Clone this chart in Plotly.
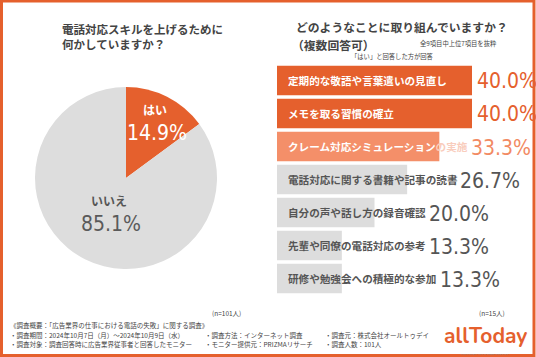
import math
import plotly.graph_objects as go

# ---------------- data ----------------
pie_labels = ["はい", "いいえ"]
pie_values = [14.9, 85.1]

bar_labels = [
    "定期的な敬語や言葉遣いの見直し",
    "メモを取る習慣の確立",
    "クレーム対応シミュレーションの実施",
    "電話対応に関する書籍や記事の読書",
    "自分の声や話し方の録音確認",
    "先輩や同僚の電話対応の参考",
    "研修や勉強会への積極的な参加",
]
bar_values = [40.0, 40.0, 33.3, 26.7, 20.0, 13.3, 13.3]

left_title = "電話対応スキルを上げるために<br>何かしていますか？"
right_title = "どのようなことに取り組んでいますか？"
right_sub = "（複数回答可）"
right_note1 = "全9項目中上位7項目を抜粋"
right_note2 = "「はい」と回答した方が回答"
n_left = "(n=101人)"
n_right = "(n=15人)"
foot_title = "《調査概要：「広告業界の仕事における電話の失敗」に関する調査》"
foot_col1 = ["・調査期間：2024年10月7日（月）～2024年10月9日（水）",
             "・調査対象：調査回答時に広告業界従事者と回答したモニター"]
foot_col2 = ["・調査方法：インターネット調査", "・モニター提供元：PRIZMAリサーチ"]
foot_col3 = ["・調査元：株式会社オールトゥデイ", "・調査人数：101人"]

# ---------------- style ----------------
W, H = 536, 357
ORANGE = "#E5602D"
LIGHT = "#F48F69"
GRAY = "#DDDDDD"
DARK = "#555555"
JP = "Noto Sans CJK JP"
NUM = "DejaVu Sans Condensed, Roboto, sans-serif"

def px(x):
    return x / W

def py(y):
    return 1 - y / H

bar_colors = [ORANGE, ORANGE, LIGHT] + [GRAY] * 4
val_colors = [ORANGE, ORANGE, "#F28A63"] + [DARK] * 4
lab_colors = ["white", "white", "white"] + [DARK] * 4

fig = go.Figure()

# pie
pie_l, pie_r, pie_t, pie_b = 35, 217, 87, 269
fig.add_trace(go.Pie(
    labels=pie_labels, values=pie_values, sort=False, direction="clockwise",
    rotation=0, marker=dict(colors=[ORANGE, GRAY], line=dict(width=0)),
    textinfo="none", hoverinfo="label+percent", showlegend=False,
    domain=dict(x=[px(pie_l), px(pie_r)], y=[py(pie_b), py(pie_t)]),
))

# bars
x0_px = 277
px_per_pct = 4.875
xmax = 50
x1_px = x0_px + xmax * px_per_pct
top_px, pitch = 64, 33
bot_px = top_px + pitch * len(bar_values)
fig.add_trace(go.Bar(
    x=bar_values, y=list(range(len(bar_values))), orientation="h",
    marker=dict(color=bar_colors, line=dict(width=0)), width=0.9,
    xaxis="x2", yaxis="y2", showlegend=False, hoverinfo="x",
))

fig.update_layout(
    width=W, height=H, margin=dict(l=0, r=0, t=0, b=0),
    paper_bgcolor="white", plot_bgcolor="white",
    xaxis2=dict(domain=[px(x0_px), px(x1_px)], range=[0, xmax], visible=False,
                anchor="y2", fixedrange=True),
    yaxis2=dict(domain=[py(bot_px), py(top_px)], range=[len(bar_values) - 0.5, -0.5],
                visible=False, anchor="x2", fixedrange=True),
)

ann = []

def A(x, y, text, size, color=DARK, font=JP, xanchor="left", yanchor="middle", **kw):
    ann.append(dict(x=px(x), y=py(y), xref="paper", yref="paper", text=text,
                    showarrow=False, xanchor=xanchor, yanchor=yanchor,
                    font=dict(family=font, size=size, color=color), **kw))

# titles
A(60, 37, "<b>" + left_title + "</b>", 11.5, color="#444444")
ann[-1]["align"] = "left"
A(294, 27, "<b>" + right_title + "</b>", 11.8, color="#444444")
A(290, 44, "<b>" + right_sub + "</b>", 11.8, color="#444444")
A(418, 43, right_note1, 6.3, color="#444444")
A(392, 57, right_note2, 6.3, color="#444444", xanchor="center")

# pie labels (computed from slice geometry)
cx, cy = (pie_l + pie_r) / 2, (pie_t + pie_b) / 2
r = (pie_r - pie_l) / 2
radial = [0.7, 0.42]
pie_name_colors = ["white", DARK]
pie_val_colors = ["white", "#5a5a5a"]
start = 0.0
tot = sum(pie_values)
for lab, v, k, c1, c2 in zip(pie_labels, pie_values, radial, pie_name_colors, pie_val_colors):
    mid = start + v / tot * 360 / 2
    start += v / tot * 360
    ax = cx + k * r * math.sin(math.radians(mid))
    ay = cy - k * r * math.cos(math.radians(mid))
    A(ax, ay - 12, "<b>" + lab + "</b>", 12, color=c1, xanchor="center")
    A(ax + 2, ay + 12, f"{v:.1f}%", 21, color=c2, font=NUM, xanchor="center")

# bar labels and values
label_start = 286
char_w = 10.4
for i, (lab, v) in enumerate(zip(bar_labels, bar_values)):
    yc = top_px + pitch * (i + 0.5)
    bar_end = x0_px + v * px_per_pct
    text = lab
    n_in = int((bar_end - label_start) // char_w)
    if n_in < len(lab) and i < 3:
        text = lab[:n_in] + "<span style='color:#F9CDBD'>" + lab[n_in:] + "</span>"
    A(label_start, yc, "<b>" + text + "</b>", 10.6, color=lab_colors[i])
    lab_end = label_start + len(lab) * char_w
    vx = max(bar_end + 3, lab_end + 6)
    A(vx, yc + 1, f"{v:.1f}%", 21, color=val_colors[i], font=NUM)

# n labels
A(226, 313, n_left, 6.5, xanchor="center", color="#444444")
A(492, 313, n_right, 6.5, xanchor="center", color="#444444")

# footnotes
A(8, 325, foot_title, 6.5, color="#444444")
for j in range(2):
    yy = 335 + j * 9
    A(8, yy, foot_col1[j], 6.5, color="#444444")
    A(203, yy, foot_col2[j], 6.5, color="#444444")
    A(323, yy, foot_col3[j], 6.5, color="#444444")

# logo
A(485, 336, "<b>allToday</b>", 21, color=ORANGE, font="Nunito, Lato, sans-serif", xanchor="center")
A(485, 351, "LIVE THIS DAY AS IF IT WERE YOUR LAST", 2.5, color="#888888", font="Lato", xanchor="center",
  yanchor="top")

fig.update_layout(annotations=ann)

# border
fig.add_shape(type="rect", xref="paper", yref="paper", x0=px(1.5), x1=px(534), y0=py(355.5), y1=py(1),
              line=dict(color=ORANGE, width=3), fillcolor="rgba(0,0,0,0)", layer="above")

fig.write_html("out.html", config={"displayModeBar": False},
               post_script="document.body.style.margin='0';document.body.style.padding='0';")
